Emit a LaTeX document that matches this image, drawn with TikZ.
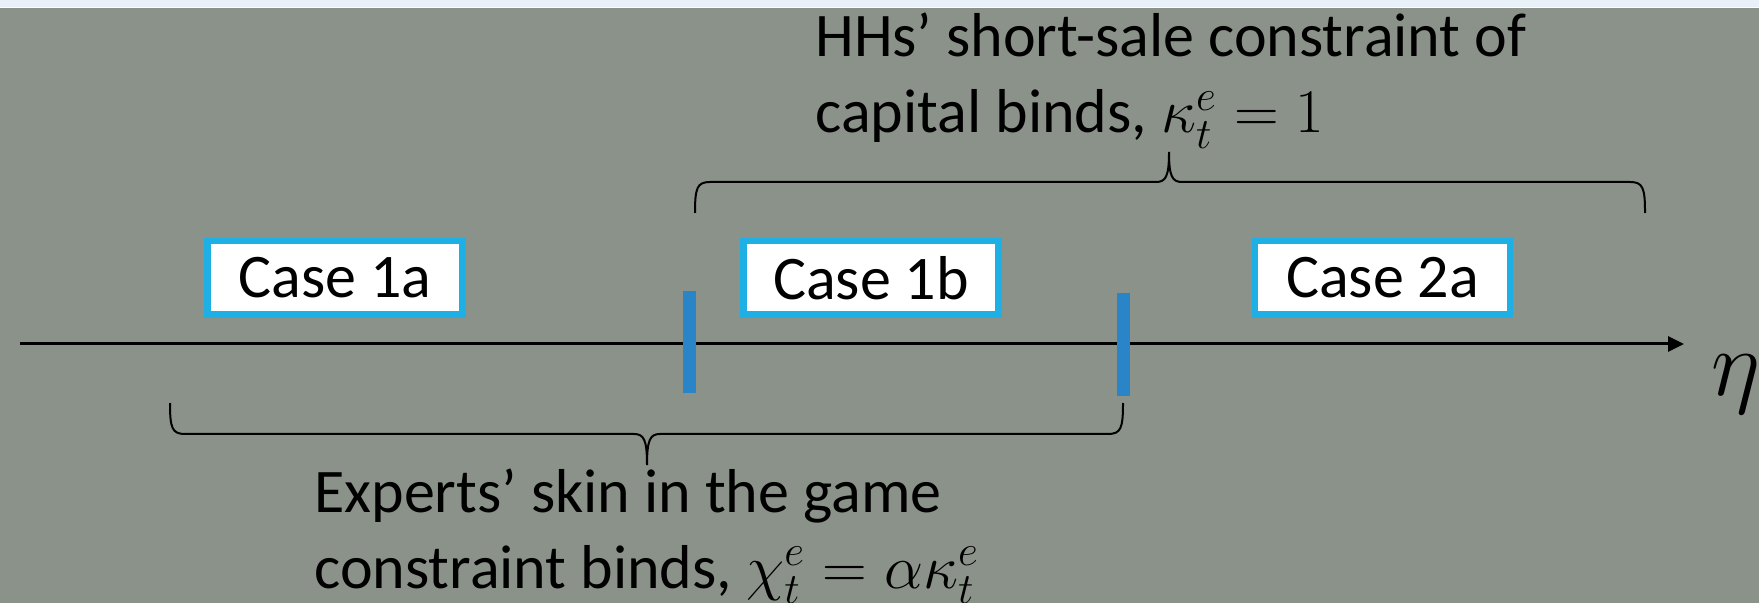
\RequirePackage{fix-cm}
\documentclass[tikz,border=0pt]{standalone}
\usepackage{fontspec}
\setmainfont{Carlito}
\usepackage{xcolor}
\usetikzlibrary{arrows.meta,positioning}

\definecolor{bggrey}{RGB}{139,146,137}
\definecolor{topband}{RGB}{232,240,248}
\definecolor{casecol}{RGB}{30,175,229}
\definecolor{tickcol}{RGB}{42,132,200}

\begin{document}
\begin{tikzpicture}[
    x=0.5pt, y=-0.5pt,
    casebox/.style={draw=casecol, line width=3.25pt, fill=white, minimum width=127.5pt, minimum height=36.75pt, inner sep=0pt, font=\fontsize{31}{38}\selectfont},
    label/.style={inner sep=0pt, anchor=base west, align=left, font=\fontsize{31}{38}\selectfont},
    tickmark/.style={draw=tickcol, line width=6.5pt},
    axisline/.style={line width=1.5pt, -{Triangle[length=8pt,width=7.5pt]}},
    bracepath/.style={line width=1pt}
]
\useasboundingbox (0,0) rectangle (1759,603);
\fill[white] (0,0) rectangle (1759,9);
\fill[topband] (0,0) rectangle (1759,7);
\fill[bggrey] (0,8.5) rectangle (1759,603);

\node[casebox] (c1a) at (335,278)    {Case 1a};
\node[casebox] (c1b) at (871,278)    {Case 1b};
\node[casebox] (c2a) at (1382.5,278) {Case 2a};

\coordinate (axstart) at (20,344);
\coordinate (axend)   at (1684,344);
\draw[axisline] (axstart) -- (axend);
\node[inner sep=0pt, anchor=base west, font=\fontsize{47}{52}\selectfont] (eta) at (1711,396) {$\eta$};

\draw[tickmark] (689,291) -- (689,393);
\draw[tickmark] (1123,293) -- (1123,396);

% upper brace
\draw[bracepath] (695,213) .. controls (695,188) and (697,182) .. (710,182) -- (1156,182)
    .. controls (1166,182) and (1169,176) .. (1169,152)
    .. controls (1169,176) and (1172,182) .. (1182,182) -- (1630,182)
    .. controls (1643,182) and (1645,188) .. (1645,213);
\node[label] (hhs) at (815,133) {HHs’ short-sale constraint of\\capital binds, $\kappa_t^e=1$};

% lower brace
\draw[bracepath] (170,403) .. controls (170,428) and (172,434) .. (185,434) -- (634,434)
    .. controls (644,434) and (647,440) .. (647,465)
    .. controls (647,440) and (650,434) .. (660,434) -- (1108,434)
    .. controls (1121,434) and (1123,428) .. (1123,403);
\node[label] (exp) at (314,588) {Experts’ skin in the game\\constraint binds, $\chi_t^e=\alpha\kappa_t^e$};
\end{tikzpicture}
\end{document}
